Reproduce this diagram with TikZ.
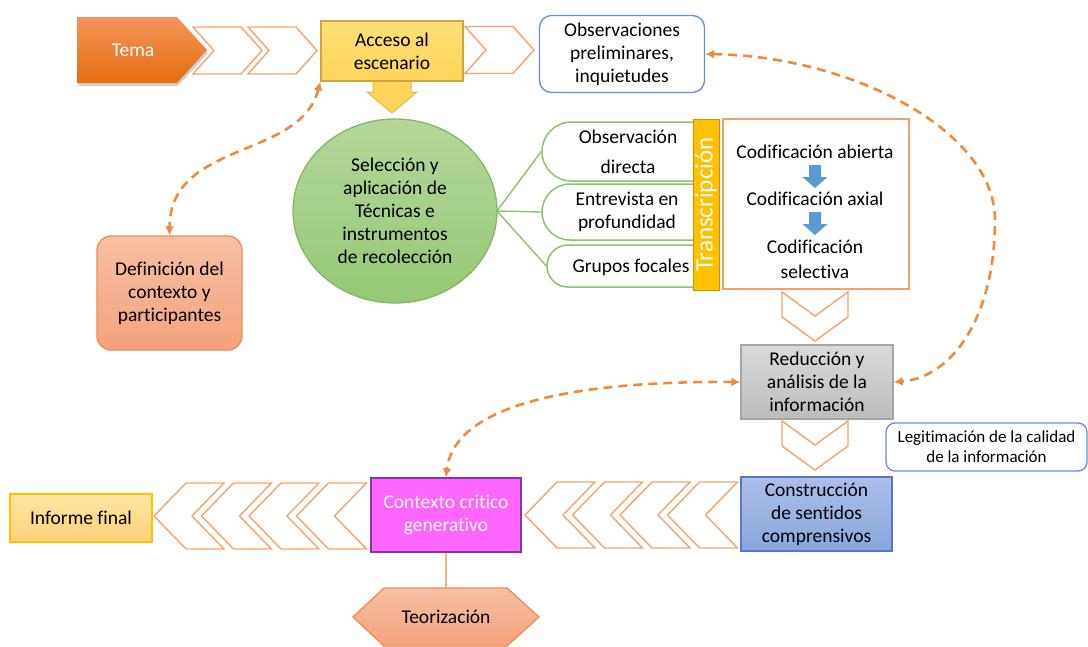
\documentclass[tikz,border=0pt]{standalone}
\usepackage{fontspec}
\setmainfont{Carlito}[Ligatures={NoCommon}]
\usetikzlibrary{arrows.meta,shapes.geometric,shapes.misc,shadows}

\definecolor{chevorange}{RGB}{244,164,110}
\definecolor{dashorange}{RGB}{240,138,60}
\definecolor{tematop}{RGB}{244,150,92}
\definecolor{temabot}{RGB}{228,108,14}
\definecolor{acctop}{RGB}{255,222,118}
\definecolor{accbot}{RGB}{255,212,90}
\definecolor{accedge}{RGB}{204,168,60}
\definecolor{obsblue}{RGB}{104,142,214}
\definecolor{greentop}{RGB}{180,216,154}
\definecolor{greenbot}{RGB}{150,199,116}
\definecolor{greenedge}{RGB}{130,186,96}
\definecolor{greenline}{RGB}{140,196,108}
\definecolor{amber}{RGB}{255,192,0}
\definecolor{amberedge}{RGB}{196,150,0}
\definecolor{codeedge}{RGB}{244,158,104}
\definecolor{codeblue}{RGB}{91,155,213}
\definecolor{greytop}{RGB}{218,218,218}
\definecolor{greybot}{RGB}{188,188,188}
\definecolor{greyedge}{RGB}{165,165,165}
\definecolor{constop}{RGB}{172,190,232}
\definecolor{consbot}{RGB}{138,166,220}
\definecolor{consedge}{RGB}{82,122,200}
\definecolor{ctxfill}{RGB}{255,102,255}
\definecolor{purpleedge}{RGB}{128,56,168}
\definecolor{inftop}{RGB}{255,229,162}
\definecolor{infbot}{RGB}{255,208,120}
\definecolor{infedge}{RGB}{255,192,0}
\definecolor{salmontop}{RGB}{247,192,164}
\definecolor{salmonbot}{RGB}{244,162,124}
\definecolor{salmonedge}{RGB}{240,140,80}
\definecolor{teoline}{RGB}{244,177,131}

\tikzset{
  chevline/.style={draw=chevorange, line width=1.4pt, fill=white, line join=miter},
  chevR/.pic={\path[chevline] (0,-23.5) -- (48,-23.5) -- (69,0) -- (48,23.5) -- (0,23.5) -- (21,0) -- cycle;},
  chevL/.pic={\path[chevline] (0,0) -- (32,-33) -- (70,-33) -- (38,0) -- (70,33) -- (32,33) -- cycle;},
  chevD/.pic={\path[chevline] (-33,0) -- (0,24) -- (33,0) -- (33,25) -- (0,49) -- (-33,25) -- cycle;},
  bluedown/.pic={\path[fill=codeblue] (-6,0) -- (6,0) -- (6,12) -- (12.5,12) -- (0,23) -- (-12.5,12) -- (-6,12) -- cycle;},
  dashlink/.style={draw=dashorange, line width=2.6pt, dash pattern=on 9pt off 6pt,
    {Latex[length=9pt,width=9pt]}-{Latex[length=9pt,width=9pt]}},
  greenlink/.style={draw=greenline, line width=1.4pt},
  greenbox/.style={rounded rectangle, rounded rectangle east arc=none, draw=greenline,
    line width=1.5pt, fill=white},
  plainbox/.style={line width=1.3pt},
}

\begin{document}
\begin{tikzpicture}[x=1pt, y=-1pt,
  every node/.style={font=\fontsize{19.5}{23}\selectfont, align=center, inner sep=0pt}]

\path[use as bounding box, fill=white] (0,0) rectangle (1088,646);

% ---------- top row ----------
\path[top color=tematop, bottom color=temabot,
      drop shadow={shadow xshift=1pt, shadow yshift=-3pt, opacity=0.18, fill=black}]
  (77,17) -- (177,17) -- (207,50) -- (177,83) -- (77,83) -- cycle;
\node[text=white] (tema) at (133,50) {Tema};

\pic at (193,50.5) {chevR};
\pic at (248,50.5) {chevR};
\pic at (465,50) {chevR};

\path[fill=accbot, draw=accedge!60!accbot, line width=1pt]
  (373,80) -- (411,80) -- (411,92) -- (417,92) -- (392,113) -- (367,92) -- (373,92) -- cycle;
\node[plainbox, draw=accedge, top color=acctop, bottom color=accbot,
      minimum width=142pt, minimum height=60pt] (acc) at (392,51) {Acceso al\\escenario};

\node[plainbox, draw=obsblue, rounded corners=12pt, fill=white,
      minimum width=165pt, minimum height=77pt] (obs) at (622,54)
      {Observaciones\\preliminares,\\inquietudes};

% ---------- data collection ----------
\node[plainbox, draw=salmonedge, rounded corners=14pt, top color=salmontop, bottom color=salmonbot,
      minimum width=145pt, minimum height=114pt] (def) at (169.5,293)
      {Definición del\\contexto y\\participantes};

\node[greenbox, minimum width=153pt, minimum height=59pt] (gb1) at (618.5,151.5) {};
\node[greenbox, minimum width=153pt, minimum height=56pt] (gb2) at (618.5,212) {};
\node[greenbox, minimum width=148pt, minimum height=42pt] (gb3) at (621,266) {};
\node[font=\fontsize{19.5}{30}\selectfont] (gt1) at (628,152) {Observación\\directa};
\node (gt2) at (627,211.5) {Entrevista en\\profundidad};
\node (gt3) at (631,267) {Grupos focales};

\draw[greenlink] (497,211) coordinate (hub) -- (gb1.west);
\draw[greenlink] (hub) -- (gb2.west);
\draw[greenlink] (hub) -- (gb3.west);

\node[ellipse, draw=greenedge, line width=1.3pt, top color=greentop, bottom color=greenbot,
      minimum width=204pt, minimum height=184pt] (sel) at (395,211)
      {Selección y\\aplicación de\\Técnicas e\\instrumentos\\de recolección};

\node[rotate=90, fill=amber, draw=amberedge, line width=1pt, text=white,
      font=\fontsize{25}{25}\selectfont, minimum width=171pt, minimum height=26pt]
      (trans) at (706,204.5) {Transcripción};

\node[draw=codeedge, line width=1.4pt, fill=white, minimum width=186pt, minimum height=170pt]
      (code) at (816,204) {};
\node (ca) at (815,152) {Codificación abierta};
\node (cx) at (815,199) {Codificación axial};
\node[font=\fontsize{19.5}{25}\selectfont] (cs) at (815,259.5) {Codificación\\selectiva};
\pic at (815,165) {bluedown};
\pic at (815,212) {bluedown};

% ---------- analysis column ----------
\pic at (815,292) {chevD};
\pic at (815,421) {chevD};

\node[plainbox, draw=greyedge, top color=greytop, bottom color=greybot,
      minimum width=152pt, minimum height=74pt] (red) at (817,382)
      {Reducción y\\análisis de la\\información};

\node[plainbox, draw=obsblue, rounded corners=9pt, fill=white,
      font=\fontsize{17}{20}\selectfont, minimum width=201pt, minimum height=48pt]
      (leg) at (986.5,447) {Legitimación de la calidad\\de la información};

\node[plainbox, draw=consedge, top color=constop, bottom color=consbot,
      minimum width=151pt, minimum height=74pt] (cons) at (816.5,514)
      {Construcción\\de sentidos\\comprensivos};

% ---------- bottom row ----------
\pic at (525,515) {chevL};
\pic at (572.5,515) {chevL};
\pic at (620,515) {chevL};
\pic at (667.5,515) {chevL};

\pic at (154,516) {chevL};
\pic at (201.5,516) {chevL};
\pic at (249,516) {chevL};
\pic at (296.5,516) {chevL};

\node[plainbox, draw=purpleedge, fill=ctxfill, text=white,
      minimum width=150pt, minimum height=74pt] (ctx) at (446,515)
      {Contexto critico\\generativo};

\node[plainbox, draw=infedge, top color=inftop, bottom color=infbot,
      minimum width=142pt, minimum height=48pt] (inf) at (81,518) {Informe final};

\path[draw=salmonedge, line width=1.3pt, top color=salmontop, bottom color=salmonbot]
  (353,617) -- (384,588) -- (507,588) -- (539,617) -- (507,646) -- (384,646) -- cycle;
\node[minimum width=186pt, minimum height=58pt] (teo) at (446,617) {Teorización};
\draw[draw=teoline, line width=1.2pt] (ctx.south) -- (teo.north);

% ---------- dashed feedback links ----------
\draw[dashlink] (acc.south west) .. controls (300,160) and (170,140) .. (def.north);
\draw[dashlink] (obs.east) .. controls (850,56) and (995,130) .. (995,220)
                .. controls (995,320) and (950,378) .. (red.east);
\draw[dashlink] (red.west) .. controls (590,381) and (455,400) .. (ctx.north);

\end{tikzpicture}
\end{document}
